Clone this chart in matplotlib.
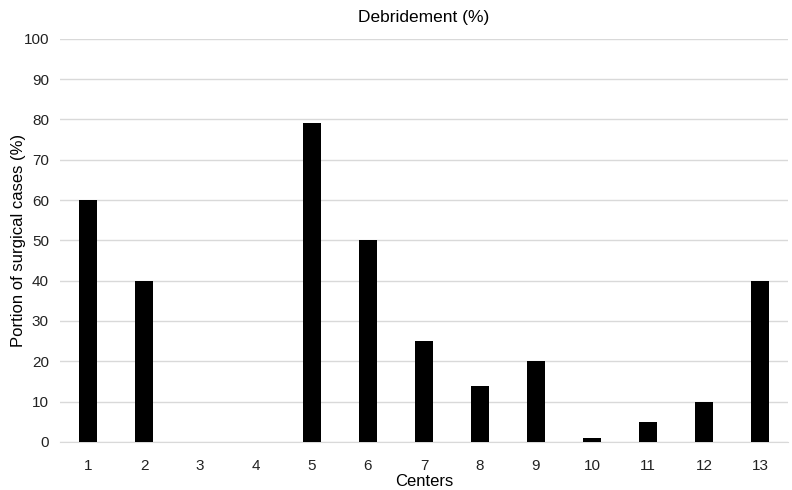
import matplotlib
matplotlib.use('Agg')
import matplotlib.pyplot as plt
import numpy as np

plt.rcParams['font.family'] = ['Liberation Sans', 'DejaVu Sans']

centers = ['1', '2', '3', '4', '5', '6', '7', '8', '9', '10', '11', '12', '13']
debridement = [60, 40, 0, 0, 79, 50, 25, 14, 20, 1, 5, 10, 40]

fig = plt.figure(figsize=(7.92, 4.9), dpi=100)
ax = fig.add_axes([0.0758, 0.098, 0.919, 0.823])

x = np.arange(len(centers))
ax.bar(x, debridement, width=0.32, color='black', zorder=3)

ax.set_xlim(-0.5, len(centers) - 0.5)
ax.set_ylim(0, 100)
ax.set_yticks(np.arange(0, 101, 10))
ax.set_xticks(x)
ax.set_xticklabels(centers)
ax.tick_params(axis='both', length=0, labelsize=11, colors='#222222')
ax.tick_params(axis='y', pad=8)
ax.tick_params(axis='x', pad=12)

ax.grid(axis='y', color='#d9d9d9', linewidth=1, zorder=0)
for s in ['top', 'right', 'left']:
    ax.spines[s].set_visible(False)
ax.spines['bottom'].set_color('#d9d9d9')

ax.set_title('Debridement (%)', fontsize=12.5, pad=12)
ax.set_xlabel('Centers', fontsize=12, labelpad=1)
ax.set_ylabel('Portion of surgical cases (%)', fontsize=12)
# right edge of rotated label ~25 px from figure left
ax.yaxis.set_label_coords(-0.047, 0.5)

fig.savefig('out.png', dpi=100)
